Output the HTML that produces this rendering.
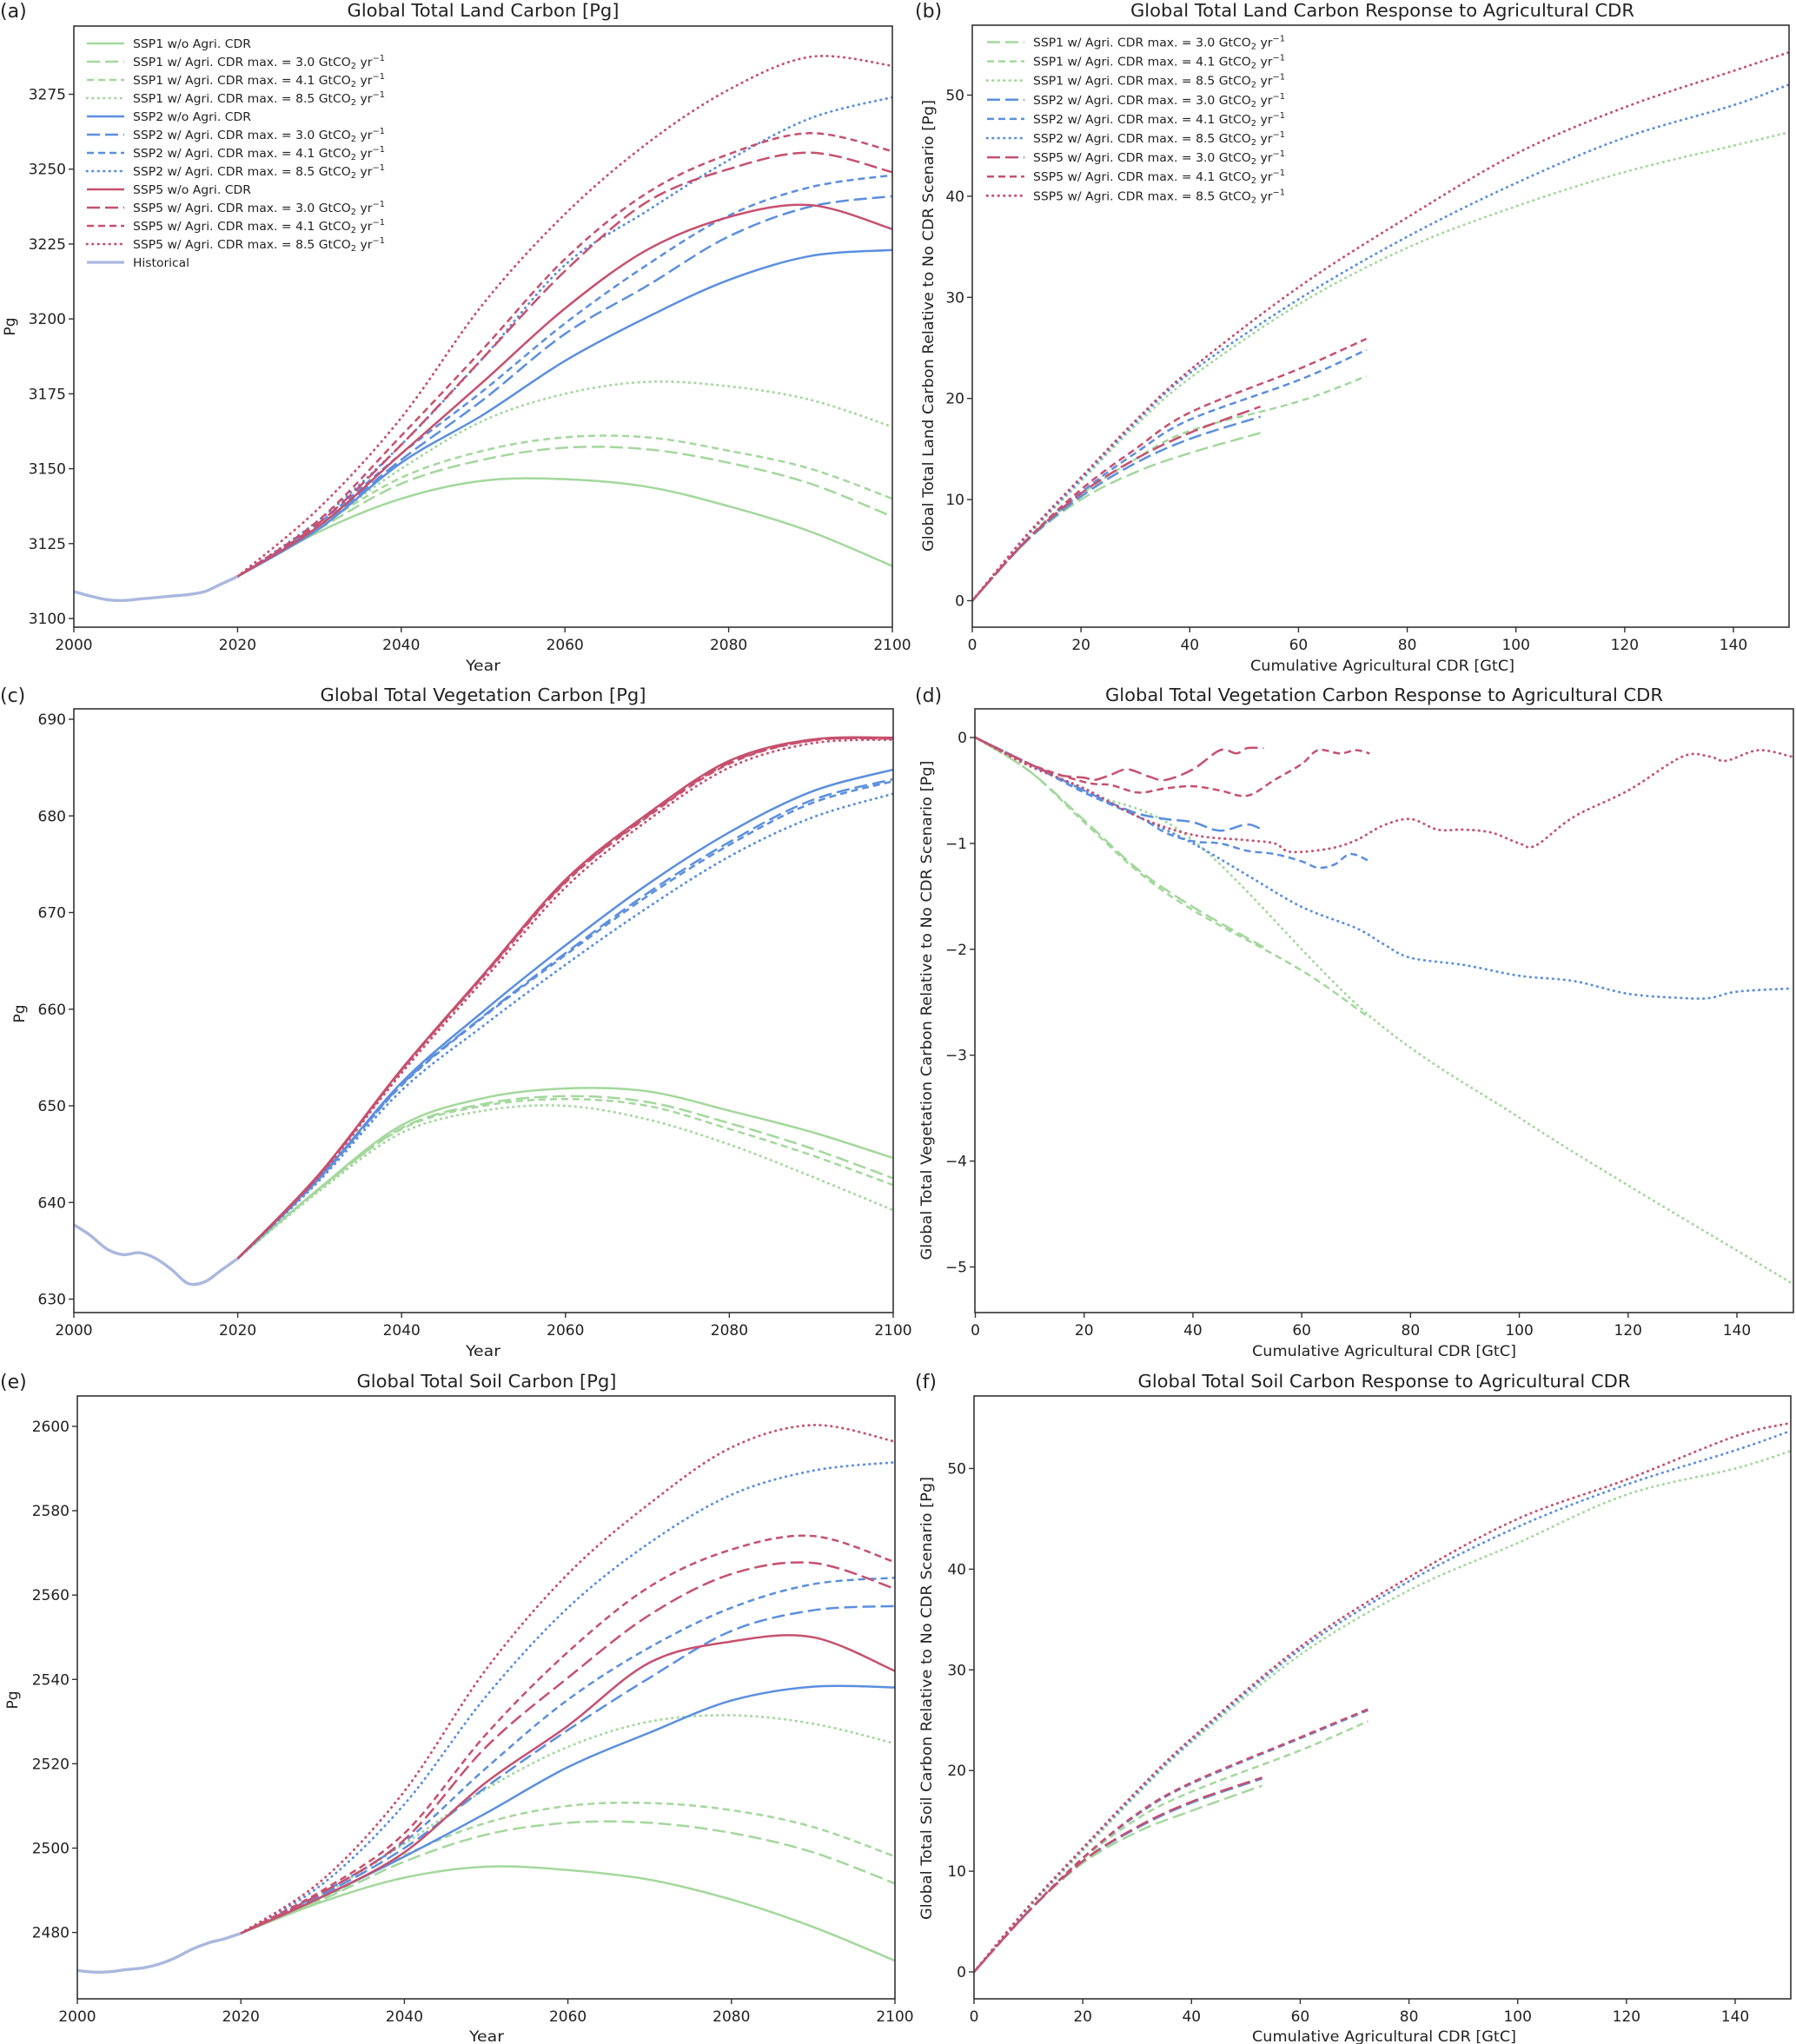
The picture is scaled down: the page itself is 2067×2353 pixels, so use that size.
<!DOCTYPE html>
<html><head><meta charset="utf-8"><style>
html,body{margin:0;padding:0;background:#fff}
svg{display:block;font-family:"DejaVu Sans","Liberation Sans",sans-serif}
</style></head><body>
<svg id="fig" width="2067" height="2353" viewBox="0 0 2067 2353" xmlns="http://www.w3.org/2000/svg"></svg>
<script>
// ---------- DATA ----------
const histYears = [2000,2002,2004,2006,2008,2010,2012,2014,2016,2018,2020];
const futYears = [2020,2030,2040,2050,2060,2070,2080,2090,2100];
// Panel a: land carbon
const landHist = [3109,3107.5,3106.3,3106,3106.5,3107,3107.5,3108,3109,3111.5,3114];
const landS1_0 = [3114,3129,3140,3146,3146.5,3144,3137.5,3129,3117.5];
const landS1_3 = [3114,3130,3145,3153,3157,3156.5,3152,3145,3134];
const landS1_4 = [3114,3131,3147,3156,3160.5,3160.5,3156,3150,3140];
const landS1_8 = [3114,3131,3150,3166,3175,3179,3177.5,3173,3164];
const landS2_0 = [3114,3130,3152,3168,3186,3200.5,3213,3221,3223];
const landS2_3 = [3114,3131,3153,3173,3195,3211,3227.5,3237.5,3241];
const landS2_4 = [3114,3132,3155,3176,3198.5,3218,3234.5,3244,3248];
const landS2_8 = [3114,3133,3158,3187,3218,3236,3253,3267,3274];
const landS5_0 = [3114,3131,3155,3179,3203.5,3223,3234,3238,3230];
const landS5_3 = [3114,3132,3158,3187,3216,3239,3250,3255.5,3249];
const landS5_4 = [3114,3133,3161,3190,3220,3242,3255,3262,3256];
const landS5_8 = [3114,3137,3167,3205,3235,3258.5,3276.5,3287.5,3284.5];
// Panel c: vegetation carbon
const vegHist = [637.7,636.6,635.2,634.6,634.8,634.2,633,631.6,631.8,633,634.2];
const vegS1_0 = [634.2,641.5,648,650.8,651.8,651.5,649.5,647.3,644.6];
const vegS1_3 = [634.2,641.4,647.7,650.2,651,650.4,648.2,645.6,642.5];
const vegS1_4 = [634.2,641.4,647.6,650,650.7,650,647.6,644.9,641.8];
const vegS1_8 = [634.2,641.2,647.2,649.5,650,648.6,646,642.7,639.2];
const vegS2_0 = [634.2,642.6,652.4,659.8,666.6,672.9,678.3,682.5,684.8];
const vegS2_3 = [634.2,642.5,652.2,659.3,665.8,672,677.3,681.6,683.8];
const vegS2_4 = [634.2,642.5,652.1,659.2,665.6,671.7,677,681.3,683.6];
const vegS2_8 = [634.2,642.3,651.6,658.3,664.6,670.5,675.8,679.8,682.3];
const vegS5_0 = [634.2,643,653.8,663.6,673.4,680.2,685.7,687.9,688.1];
const vegS5_3 = [634.2,642.9,653.7,663.5,673.2,680,685.5,687.8,688];
const vegS5_4 = [634.2,642.9,653.7,663.4,673.1,679.9,685.4,687.8,688];
const vegS5_8 = [634.2,642.8,653.4,663,672.6,679.5,685,687.5,687.9];
// Panel e: soil carbon
const soilHist = [2471,2470.6,2470.7,2471.2,2471.6,2472.5,2474,2476,2477.5,2478.5,2479.8];
const soilS1_0 = [2479.8,2487.3,2493,2495.6,2494.8,2492.5,2487.8,2481.3,2473.3];
const soilS1_3 = [2479.8,2487.8,2496.8,2503.2,2506,2506,2503.6,2499,2491.6];
const soilS1_4 = [2479.8,2488,2498.3,2506,2510,2510.7,2509,2505,2498];
const soilS1_8 = [2479.8,2489,2501,2514,2524,2530,2531.5,2529.5,2524.8];
const soilS2_0 = [2479.8,2488.5,2498,2508.3,2519.2,2527.4,2535,2538.3,2538.1];
const soilS2_3 = [2479.8,2489,2500,2514.5,2528,2540.4,2551.5,2556.4,2557.4];
const soilS2_4 = [2479.8,2489.5,2501.5,2519,2535.2,2547.6,2557,2562.6,2564.1];
const soilS2_8 = [2479.8,2491.5,2510.4,2536,2557,2572.4,2583.8,2589.5,2591.5];
const soilS5_0 = [2479.8,2488.5,2499,2515.6,2529,2544,2549,2550,2542];
const soilS5_3 = [2479.8,2489.5,2502,2524,2540.4,2555.3,2565,2567.6,2561.5];
const soilS5_4 = [2479.8,2490,2503.5,2527,2546.5,2562,2570.8,2574,2567.8];
const soilS5_8 = [2479.8,2492.5,2513.5,2542.4,2565,2581.7,2595,2600.3,2596.4];
// Response panels: cumulative CDR x values
const cdr3 = [0,10,20,30,40,53];
const cdr4 = [0,10,20,30,40,60,72.5];
const cdr8 = [0,10,20,30,40,60,80,100,120,140,150];
// Panel b
const respLandS1_3 = [0,5.9,10,12.7,14.6,16.6];
const respLandS2_3 = [0,5.9,10.3,13.6,16,18.2];
const respLandS5_3 = [0,6,10.6,14,16.6,19.2];
const respLandS1_4 = [0,5.9,10.5,14,16.8,19.7,22.2];
const respLandS2_4 = [0,6,10.7,14.6,17.9,21.8,24.8];
const respLandS5_4 = [0,6,11,15,18.6,22.9,25.9];
const respLandS1_8 = [0,6.3,11.8,17.3,22,29.3,34.9,39,42.4,45,46.3];
const respLandS2_8 = [0,6.4,12,17.6,22.5,29.8,36,41.3,45.8,49,51];
const respLandS5_8 = [0,6.5,12.2,17.8,22.8,31,37.9,44.2,48.8,52.4,54.2];
// Panel d (irregular x)
const dS1_3x = [0,10,20,30,40,53];
const dS1_3y = [0,-0.32,-0.78,-1.25,-1.6,-1.98];
const dS1_4x = [0,10,20,30,40,60,72.5];
const dS1_4y = [0,-0.32,-0.8,-1.27,-1.63,-2.2,-2.65];
const dS1_8x = [0,20,40,72.5,100,120,150];
const dS1_8y = [0,-0.5,-0.97,-2.63,-3.59,-4.23,-5.15];
const dS2_3x = [0,10,20,25,30,35,40,45,50,53];
const dS2_3y = [0,-0.25,-0.5,-0.62,-0.72,-0.77,-0.8,-0.88,-0.82,-0.88];
const dS2_4x = [0,10,20,30,35,40,45,50,55,60,63,66,69,72.5];
const dS2_4y = [0,-0.25,-0.52,-0.75,-0.9,-0.98,-1.0,-1.07,-1.1,-1.17,-1.23,-1.2,-1.1,-1.17];
const dS2_8x = [0,10,20,30,40,50,60,70,75,80,90,100,110,120,130,135,140,150];
const dS2_8y = [0,-0.25,-0.5,-0.75,-1.0,-1.3,-1.6,-1.8,-1.95,-2.08,-2.15,-2.25,-2.3,-2.42,-2.46,-2.46,-2.4,-2.37];
const dS5_3x = [0,10,15,20,22,25,28,32,35,40,45,48,50,53];
const dS5_3y = [0,-0.25,-0.35,-0.38,-0.4,-0.35,-0.3,-0.37,-0.4,-0.3,-0.12,-0.15,-0.1,-0.1];
const dS5_4x = [0,10,20,25,30,35,40,45,50,55,60,63,67,70,72.5];
const dS5_4y = [0,-0.25,-0.42,-0.45,-0.52,-0.48,-0.46,-0.5,-0.55,-0.4,-0.25,-0.12,-0.15,-0.12,-0.15];
const dS5_8x = [0,10,20,30,40,50,55,58,65,70,75,80,85,90,95,100,103,110,120,130,135,138,144,150];
const dS5_8y = [0,-0.27,-0.48,-0.75,-0.92,-0.97,-1.0,-1.08,-1.05,-0.97,-0.83,-0.77,-0.87,-0.87,-0.9,-1.0,-1.02,-0.75,-0.5,-0.18,-0.18,-0.22,-0.12,-0.18];
// Panel f
const respSoilS1_3 = [0,6,10.8,13.9,16,18.5];
const respSoilS2_3 = [0,6,11,14.3,16.8,19.2];
const respSoilS5_3 = [0,6,11,14.4,16.9,19.3];
const respSoilS1_4 = [0,6,11.2,15.2,17.9,22,24.9];
const respSoilS2_4 = [0,6,11.3,15.6,18.7,23.2,26];
const respSoilS5_4 = [0,6,11.3,15.7,18.8,23.3,26.1];
const respSoilS1_8 = [0,6.3,12,17.6,22.8,31.5,37.9,42.6,47.4,50,51.7];
const respSoilS2_8 = [0,6.4,12.2,17.8,23,32,38.8,44.2,48.4,51.8,53.7];
const respSoilS5_8 = [0,6.5,12.3,18,23.2,32.3,39.2,45,48.9,53.2,54.5];
// Ticks
const yearTicks = [2000,2020,2040,2060,2080,2100];
const cdrTicks = [0,20,40,60,80,100,120,140];
const landTicks = [3100,3125,3150,3175,3200,3225,3250,3275];
const vegTicks = [630,640,650,660,670,680,690];
const soilTicks = [2480,2500,2520,2540,2560,2580,2600];
const respTicks = [0,10,20,30,40,50];
const vegRespTicks = [0,-1,-2,-3,-4,-5];

// ---------- RENDER ----------
const NS = 'http://www.w3.org/2000/svg';
const svg = document.getElementById('fig');
const GREEN='#a3d89c', BLUE='#5b8fde', RED='#c6506f', HIST='#a9b8de';
const DASH={solid:null,long:'15,6',short:'8,5',dot:'0.5,6'};
function mk(tag,attrs,parent){const e=document.createElementNS(NS,tag);for(const k in attrs)e.setAttribute(k,attrs[k]);(parent||svg).appendChild(e);return e;}
function lin(v0,p0,v1,p1){return v=>p0+(v-v0)*(p1-p0)/(v1-v0);}
function smoothPath(pts){
  if(pts.length<3){return 'M'+pts.map(p=>p[0].toFixed(1)+','+p[1].toFixed(1)).join(' L');}
  let d='M'+pts[0][0].toFixed(1)+','+pts[0][1].toFixed(1);
  for(let i=0;i<pts.length-1;i++){
    const p0=pts[i-1]||pts[i],p1=pts[i],p2=pts[i+1],p3=pts[i+2]||p2;
    const c1=[p1[0]+(p2[0]-p0[0])/6,p1[1]+(p2[1]-p0[1])/6];
    const c2=[p2[0]-(p3[0]-p1[0])/6,p2[1]-(p3[1]-p1[1])/6];
    d+=' C'+c1[0].toFixed(1)+','+c1[1].toFixed(1)+' '+c2[0].toFixed(1)+','+c2[1].toFixed(1)+' '+p2[0].toFixed(1)+','+p2[1].toFixed(1);
  }
  return d;
}
let clipId=0;
function panel(cfg){
  const g=mk('g',{});
  
  
  const X=lin(...cfg.xmap), Y=lin(...cfg.ymap), b=cfg.box;
  const cid='clip'+(clipId++);
  const cp=mk('clipPath',{id:cid},g); mk('rect',{x:b.l,y:b.t,width:b.r-b.l,height:b.b-b.t},cp);
  const lines=mk('g',{'clip-path':'url(#'+cid+')'},g);
  cfg.series.forEach(s=>{
    const pts=s.x.map((xv,i)=>[X(xv),Y(s.y[i])]);
    const p=mk('path',{d:smoothPath(pts),fill:'none',stroke:s.c,'stroke-width':s.w||(s.d==='dot'?2.8:2.5),'stroke-linecap':s.d==='dot'?'round':'butt'},lines);
    if(DASH[s.d])p.setAttribute('stroke-dasharray',DASH[s.d]);
    
    
  });
  const fr=mk('rect',{x:b.l,y:b.t,width:b.r-b.l,height:b.b-b.t,fill:'none',stroke:'#333','stroke-width':1.6},g);
  
  
  cfg.xt.forEach(v=>{const x=X(v);mk('line',{x1:x,x2:x,y1:b.b,y2:b.b+6,stroke:'#333','stroke-width':1.4},g);
    const t=mk('text',{x:x,y:b.b+26,'text-anchor':'middle','font-size':17,fill:'#222'},g);t.textContent=String(v);
    
    });
  cfg.yt.forEach(v=>{const y=Y(v);mk('line',{x1:b.l-6,x2:b.l,y1:y,y2:y,stroke:'#333','stroke-width':1.4},g);
    const t=mk('text',{x:b.l-9,y:y+6,'text-anchor':'end','font-size':17,fill:'#222'},g);t.textContent=String(v).replace('-','\u2212');
    
    });
  const tt=mk('text',{x:cfg.title[1],y:cfg.title[2],'text-anchor':'middle','font-size':20,fill:'#222',textLength:cfg.title[3],lengthAdjust:'spacingAndGlyphs'},g);
  tt.textContent=cfg.title[0];
  
  
  const pl=mk('text',{x:cfg.label[1],y:cfg.label[2],'font-size':22,fill:'#222'},g);pl.textContent=cfg.label[0];
  
  
  const xl=mk('text',{x:cfg.xl[1],y:cfg.xl[2],'text-anchor':'middle','font-size':17,fill:'#222',textLength:cfg.xl[3],lengthAdjust:'spacingAndGlyphs'},g);
  xl.textContent=cfg.xl[0];
  
  
  const yl=mk('text',{x:0,y:0,'text-anchor':'middle','font-size':17,fill:'#222',transform:'translate('+cfg.yl[1]+','+cfg.yl[2]+') rotate(-90)'},g);
  if(cfg.yl[3]){yl.setAttribute('textLength',cfg.yl[3]);yl.setAttribute('lengthAdjust','spacingAndGlyphs');}
  yl.textContent=cfg.yl[0];
  
  
}
function ts(base,name,c,d,arr){return {x:base,y:arr,c:c,d:d,n:name};}
const F=futYears,H=histYears;
function tsSeries(p,h,s){return [
  ts(F,'ssp1-no-cdr',GREEN,'solid',s[0]),ts(F,'ssp1-cdr-3.0',GREEN,'long',s[1]),ts(F,'ssp1-cdr-4.1',GREEN,'short',s[2]),ts(F,'ssp1-cdr-8.5',GREEN,'dot',s[3]),
  ts(F,'ssp2-no-cdr',BLUE,'solid',s[4]),ts(F,'ssp2-cdr-3.0',BLUE,'long',s[5]),ts(F,'ssp2-cdr-4.1',BLUE,'short',s[6]),ts(F,'ssp2-cdr-8.5',BLUE,'dot',s[7]),
  ts(F,'ssp5-no-cdr',RED,'solid',s[8]),ts(F,'ssp5-cdr-3.0',RED,'long',s[9]),ts(F,'ssp5-cdr-4.1',RED,'short',s[10]),ts(F,'ssp5-cdr-8.5',RED,'dot',s[11]),
  {x:H,y:h,c:HIST,d:'solid',n:'historical',w:3.4}];}
function respSeries(s){return [
  ts(cdr3,'ssp1-cdr-3.0',GREEN,'long',s[0]),ts(cdr4,'ssp1-cdr-4.1',GREEN,'short',s[1]),ts(cdr8,'ssp1-cdr-8.5',GREEN,'dot',s[2]),
  ts(cdr3,'ssp2-cdr-3.0',BLUE,'long',s[3]),ts(cdr4,'ssp2-cdr-4.1',BLUE,'short',s[4]),ts(cdr8,'ssp2-cdr-8.5',BLUE,'dot',s[5]),
  ts(cdr3,'ssp5-cdr-3.0',RED,'long',s[6]),ts(cdr4,'ssp5-cdr-4.1',RED,'short',s[7]),ts(cdr8,'ssp5-cdr-8.5',RED,'dot',s[8])];}

panel({name:'panel-a-land-carbon',box:{l:85,r:1027,t:30,b:722},xmap:[2000,85,2100,1027],ymap:[3100,712,3275,108.5],
  xt:yearTicks,yt:landTicks,title:['Global Total Land Carbon [Pg]',556,19,313],label:['(a)',0,20],
  xl:['Year',556,772,40],yl:['Pg',17,376],
  series:tsSeries(0,landHist,[landS1_0,landS1_3,landS1_4,landS1_8,landS2_0,landS2_3,landS2_4,landS2_8,landS5_0,landS5_3,landS5_4,landS5_8])});
panel({name:'panel-b-land-response',box:{l:1119,r:2059,t:29,b:722},xmap:[0,1119,140,1995],ymap:[0,691.5,50,109.5],
  xt:cdrTicks,yt:respTicks,title:['Global Total Land Carbon Response to Agricultural CDR',1591,19,580],label:['(b)',1053,20],
  xl:['Cumulative Agricultural CDR [GtC]',1591,772,304],yl:['Global Total Land Carbon Relative to No CDR Scenario [Pg]',1074,375,520],
  series:respSeries([respLandS1_3,respLandS1_4,respLandS1_8,respLandS2_3,respLandS2_4,respLandS2_8,respLandS5_3,respLandS5_4,respLandS5_8])});
panel({name:'panel-c-vegetation-carbon',box:{l:85,r:1028,t:816,b:1511},xmap:[2000,85,2100,1028],ymap:[690,828,630,1495.5],
  xt:yearTicks,yt:vegTicks,title:['Global Total Vegetation Carbon [Pg]',556,807,375],label:['(c)',0,808],
  xl:['Year',556,1561,40],yl:['Pg',28,1167],
  series:tsSeries(0,vegHist,[vegS1_0,vegS1_3,vegS1_4,vegS1_8,vegS2_0,vegS2_3,vegS2_4,vegS2_8,vegS5_0,vegS5_3,vegS5_4,vegS5_8])});
panel({name:'panel-d-vegetation-response',box:{l:1122,r:2064,t:816,b:1511},xmap:[0,1122.5,140,1999],ymap:[0,849,-5,1458.5],
  xt:cdrTicks,yt:vegRespTicks,title:['Global Total Vegetation Carbon Response to Agricultural CDR',1593,807,642],label:['(d)',1053,808],
  xl:['Cumulative Agricultural CDR [GtC]',1593,1561,304],yl:['Global Total Vegetation Carbon Relative to No CDR Scenario [Pg]',1072,1163,575],
  series:[
    {x:dS1_3x,y:dS1_3y,c:GREEN,d:'long',n:'ssp1-cdr-3.0'},{x:dS1_4x,y:dS1_4y,c:GREEN,d:'short',n:'ssp1-cdr-4.1'},{x:dS1_8x,y:dS1_8y,c:GREEN,d:'dot',n:'ssp1-cdr-8.5'},
    {x:dS2_3x,y:dS2_3y,c:BLUE,d:'long',n:'ssp2-cdr-3.0'},{x:dS2_4x,y:dS2_4y,c:BLUE,d:'short',n:'ssp2-cdr-4.1'},{x:dS2_8x,y:dS2_8y,c:BLUE,d:'dot',n:'ssp2-cdr-8.5'},
    {x:dS5_3x,y:dS5_3y,c:RED,d:'long',n:'ssp5-cdr-3.0'},{x:dS5_4x,y:dS5_4y,c:RED,d:'short',n:'ssp5-cdr-4.1'},{x:dS5_8x,y:dS5_8y,c:RED,d:'dot',n:'ssp5-cdr-8.5'}]});
panel({name:'panel-e-soil-carbon',box:{l:89,r:1030,t:1607,b:2301},xmap:[2000,89,2100,1030],ymap:[2600,1642,2480,2224.6],
  xt:yearTicks,yt:soilTicks,title:['Global Total Soil Carbon [Pg]',560,1597,299],label:['(e)',0,1598],
  xl:['Year',560,2350,40],yl:['Pg',20,1957],
  series:tsSeries(0,soilHist,[soilS1_0,soilS1_3,soilS1_4,soilS1_8,soilS2_0,soilS2_3,soilS2_4,soilS2_8,soilS5_0,soilS5_3,soilS5_4,soilS5_8])});
panel({name:'panel-f-soil-response',box:{l:1121,r:2061,t:1607,b:2301},xmap:[0,1121,140,1997],ymap:[0,2270,50,1690.5],
  xt:cdrTicks,yt:respTicks,title:['Global Total Soil Carbon Response to Agricultural CDR',1593,1597,567],label:['(f)',1053,1598],
  xl:['Cumulative Agricultural CDR [GtC]',1593,2350,304],yl:['Global Total Soil Carbon Relative to No CDR Scenario [Pg]',1072,1955,510],
  series:respSeries([respSoilS1_3,respSoilS1_4,respSoilS1_8,respSoilS2_3,respSoilS2_4,respSoilS2_8,respSoilS5_3,respSoilS5_4,respSoilS5_8])});

// ---------- LEGENDS ----------
function legend(x0,y0,dy,tx,entries,name){
  const g=mk('g',{});
  
  
  entries.forEach((e,i)=>{
    const y=y0+i*dy;
    const ln=mk('line',{x1:x0,x2:x0+43,y1:y,y2:y,stroke:e[1],'stroke-width':e[3]||(e[2]==='dot'?2.8:2.5),'stroke-linecap':e[2]==='dot'?'round':'butt'},g);
    if(DASH[e[2]])ln.setAttribute('stroke-dasharray',DASH[e[2]]);
    const t=mk('text',{x:tx,y:y+5,'font-size':13.5,fill:'#222'},g);
    const m=e[0].match(/^(.*) = (.*) GtCO2 yr-1$/);
    if(m){
      t.setAttribute('textLength',290);t.setAttribute('lengthAdjust','spacingAndGlyphs');
      const a=mk('tspan',{},t);a.textContent=m[1]+' = '+m[2]+' GtCO';
      const s=mk('tspan',{'font-size':9.5,dy:3},t);s.textContent='2';
      const c=mk('tspan',{dy:-3},t);c.textContent=' yr';
      const u=mk('tspan',{'font-size':9.5,dy:-6},t);u.textContent='\u22121';
    } else {
      t.textContent=e[0];
      t.setAttribute('textLength',e[0]==='Historical'?65:136);t.setAttribute('lengthAdjust','spacingAndGlyphs');
    }
    
    
  });
}
const cdrLabel=(s,v)=>s+' w/ Agri. CDR max. = '+v+' GtCO2 yr-1';
legend(100,50,21,153,[
 ['SSP1 w/o Agri. CDR',GREEN,'solid'],[cdrLabel('SSP1','3.0'),GREEN,'long'],[cdrLabel('SSP1','4.1'),GREEN,'short'],[cdrLabel('SSP1','8.5'),GREEN,'dot'],
 ['SSP2 w/o Agri. CDR',BLUE,'solid'],[cdrLabel('SSP2','3.0'),BLUE,'long'],[cdrLabel('SSP2','4.1'),BLUE,'short'],[cdrLabel('SSP2','8.5'),BLUE,'dot'],
 ['SSP5 w/o Agri. CDR',RED,'solid'],[cdrLabel('SSP5','3.0'),RED,'long'],[cdrLabel('SSP5','4.1'),RED,'short'],[cdrLabel('SSP5','8.5'),RED,'dot'],
 ['Historical',HIST,'solid',3.2]],'legend-a');
legend(1136,48.5,22.1,1189,[
 [cdrLabel('SSP1','3.0'),GREEN,'long'],[cdrLabel('SSP1','4.1'),GREEN,'short'],[cdrLabel('SSP1','8.5'),GREEN,'dot'],
 [cdrLabel('SSP2','3.0'),BLUE,'long'],[cdrLabel('SSP2','4.1'),BLUE,'short'],[cdrLabel('SSP2','8.5'),BLUE,'dot'],
 [cdrLabel('SSP5','3.0'),RED,'long'],[cdrLabel('SSP5','4.1'),RED,'short'],[cdrLabel('SSP5','8.5'),RED,'dot']],'legend-b');
</script>
</body></html>
